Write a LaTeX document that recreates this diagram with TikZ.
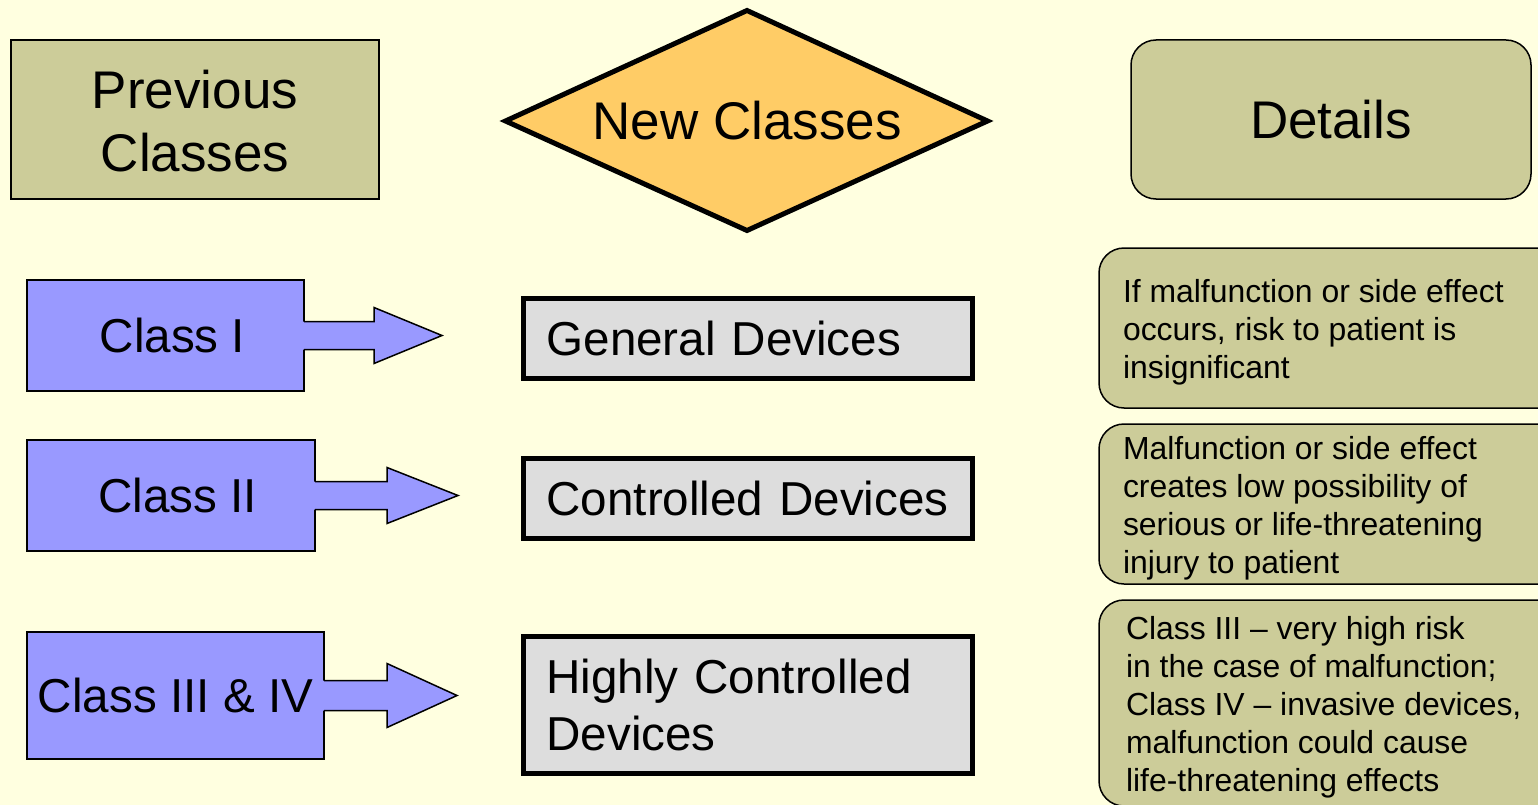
\documentclass[tikz,border=0pt]{standalone}
\usepackage{fontspec}
\setmainfont{Liberation Sans}
\definecolor{bg}{RGB}{255,255,224}
\definecolor{olive}{RGB}{204,204,153}
\definecolor{lav}{RGB}{153,153,255}
\definecolor{gold}{RGB}{255,204,102}
\definecolor{lgray}{RGB}{221,221,221}
\newcommand\clsarrow[5]{%
  \fill[lav] (#1.east) +(-3,-#3) -- +(#2,-#3) -- +(#2,-#4) -- +(#5,0) -- +(#2,#4) -- +(#2,#3) -- +(-3,#3) -- cycle;
  \draw[thinline] (#1.east) +(0,-#3) -- +(#2,-#3) -- +(#2,-#4) -- +(#5,0) -- +(#2,#4) -- +(#2,#3) -- +(0,#3);
}
\newcommand\infofont{\fontsize{31.9}{38}\selectfont}
\newcommand\lowertext[3]{\raisebox{-#1}[\height][\depth]{\parbox{#2}{#3}}}
\begin{document}
\begin{tikzpicture}[x=1pt,y=-1pt,
  thinline/.style={draw=black, line width=1.5pt, line join=miter},
  hdr/.style={font=\fontsize{53}{63}\selectfont, align=center, inner sep=0pt, outer sep=0pt},
  prevbox/.style={hdr, thinline, fill=olive, minimum width=368pt, minimum height=159pt},
  detbox/.style={hdr, thinline, fill=olive, rounded corners=25pt, minimum width=400pt, minimum height=159pt},
  diam/.style={draw=black, line width=5pt, line join=miter, fill=gold},
  clsbox/.style={thinline, fill=lav, font=\fontsize{47.6}{57}\selectfont, inner sep=0pt, outer sep=0pt, anchor=north west},
  devbox/.style={draw=black, line width=5pt, fill=lgray, font=\fontsize{47.6}{57}\selectfont, align=left, text width=403pt, inner xsep=23pt, inner ysep=0pt, outer sep=0pt, anchor=north west},
  infobox/.style={thinline, fill=olive, rounded corners=25pt, font=\infofont, inner xsep=24pt, inner ysep=0pt, outer sep=0pt, anchor=north west}
]
\fill[bg] (0,0) rectangle (1538,805);
\useasboundingbox (0,0) rectangle (1538,805);

\node[prevbox] (prev) at (195,119.5) {\lowertext{2pt}{360pt}{\centering Previous\\Classes}};
\draw[diam] (505.5,121) coordinate (dl) -- (747,10.5) coordinate (dt) -- (987.5,121) coordinate (dr) -- (747,230.5) coordinate (db) -- cycle;
\node[hdr] (newc) at (747,121) {New Classes};
\node[detbox] (det) at (1331,119.5) {Details};

\node[clsbox, minimum width=277pt, minimum height=111pt] (c1) at (27,280) {\kern14pt Class I};
\clsarrow{c1}{70}{14}{28}{138}
\node[clsbox, minimum width=288pt, minimum height=111pt] (c2) at (27,440) {\kern13pt Class II};
\clsarrow{c2}{72}{14}{28}{143}
\node[clsbox, minimum width=297pt, minimum height=127pt] (c3) at (27,632) {Class III \& IV};
\clsarrow{c3}{63}{15}{32}{133}

\node[devbox, minimum height=80pt] (d1) at (523.5,298.5) {General Devices};
\node[devbox, minimum height=80pt] (d2) at (523.5,458.5) {Controlled Devices};
\node[devbox, minimum height=137pt] (d3) at (523.5,636.5) {Highly Controlled\\Devices};

\node[infobox, minimum height=160pt] (i1) at (1099,248) {\lowertext{4pt}{430pt}{\raggedright If malfunction or side effect\\occurs, risk to patient is\\insignificant}};
\node[infobox, minimum height=160pt] (i2) at (1099,424) {\lowertext{4pt}{430pt}{\raggedright Malfunction or side effect\\creates low possibility of\\serious or life-threatening\\injury to patient}};
\node[infobox, minimum height=206pt, inner xsep=27pt] (i3) at (1099,600) {\lowertext{4pt}{430pt}{\raggedright Class III -- very high risk\\in the case of malfunction;\\Class IV -- invasive devices,\\malfunction could cause\\life-threatening effects}};
\end{tikzpicture}
\end{document}
